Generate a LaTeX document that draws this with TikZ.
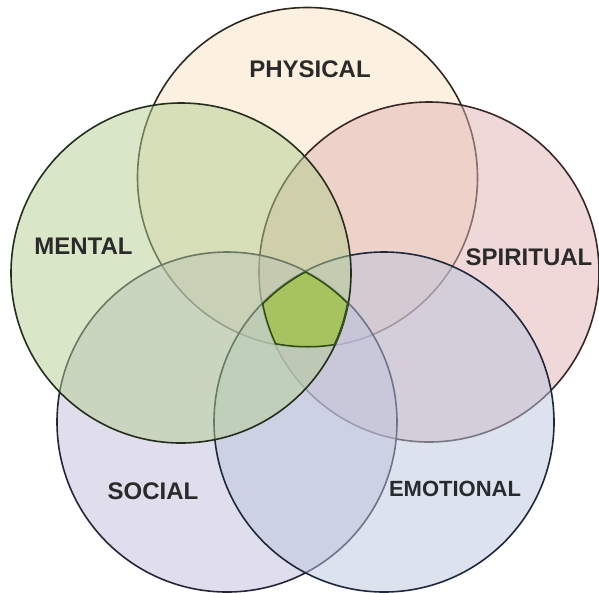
\documentclass[tikz,border=0pt]{standalone}
\usepackage{fontspec}
\setmainfont{Liberation Sans}
\usepackage{tikz}

\definecolor{physfill}{RGB}{249,227,193}
\definecolor{spirfill}{RGB}{226,178,178}
\definecolor{mentfill}{RGB}{179,205,145}
\definecolor{socfill}{RGB}{193,189,217}
\definecolor{emofill}{RGB}{185,197,221}
\definecolor{physline}{RGB}{46,42,34}
\definecolor{spirline}{RGB}{58,40,40}
\definecolor{mentline}{RGB}{36,46,28}
\definecolor{socline}{RGB}{36,38,56}
\definecolor{emoline}{RGB}{30,40,60}
\definecolor{corefill}{RGB}{167,195,95}
\definecolor{coreline}{RGB}{46,74,22}
\definecolor{tagtext}{RGB}{42,42,42}

\tikzset{
  ring/.style={circle,minimum size=340pt,inner sep=0pt,outer sep=0pt,
    fill opacity=0.5,draw opacity=1,line width=1.6pt},
  tag/.style={font=\bfseries\fontsize{24}{24}\selectfont,text=tagtext,inner sep=0pt}
}

\begin{document}
\begin{tikzpicture}[x=1pt,y=-1pt]
  \useasboundingbox (0,0) rectangle (599,592);
  \node[ring,fill=physfill,draw=physline] (phys) at (307.5,177.5) {};
  \node[ring,fill=spirfill,draw=spirline] (spir) at (429,272)     {};
  \node[ring,fill=socfill,draw=socline]   (soc)  at (227,422)     {};
  \node[ring,fill=emofill,draw=emoline]   (emo)  at (384,422)     {};
  \node[ring,fill=mentfill,draw=mentline] (ment) at (181,273)     {};
  % the part that all five share
  \begin{scope}
    \clip (phys.center) circle (170pt);
    \clip (spir.center) circle (170pt);
    \clip (soc.center)  circle (170pt);
    \clip (emo.center)  circle (170pt);
    \clip (ment.center) circle (170pt);
    \fill[corefill] (0,0) rectangle (599,592);
    \foreach \c in {phys,spir,soc,emo,ment}
      \draw[coreline,line width=3pt] (\c.center) circle (170pt);
  \end{scope}
  \node[tag] (physlbl) at (310,69)     {PHYSICAL};
  \node[tag] (mentlbl) at (83.5,246.5) {MENTAL};
  \node[tag] (spirlbl) at (529,257.5)  {SPIRITUAL};
  \node[tag] (soclbl)  at (153,491)    {SOCIAL};
  \node[tag,font=\bfseries\fontsize{22}{22}\selectfont,text=tagtext!85!emoline]
    (emolbl) at (455,488.5) {EMOTIONAL};
\end{tikzpicture}
\end{document}
